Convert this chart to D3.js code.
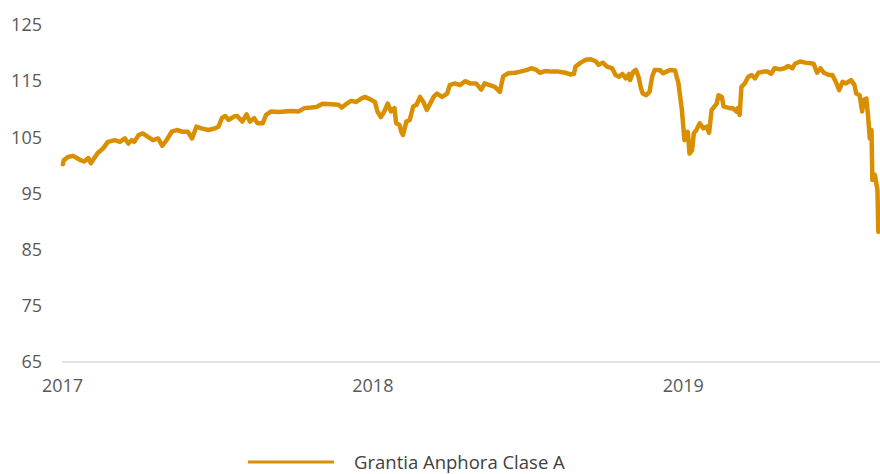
<!DOCTYPE html>
<html>
<head>
<meta charset="utf-8">
<script src="https://cdn.jsdelivr.net/npm/d3@7/dist/d3.min.js"></script>
<style>
  html, body { margin: 0; padding: 0; background: #fff; }
  svg { display: block; }
</style>
</head>
<body>
<svg id="chart" width="880" height="474"></svg>
<script>
const seriesName = "Grantia Anphora Clase A";
const yTicks = [65, 75, 85, 95, 105, 115, 125];
const xTickLabels = ["2017", "2018", "2019"];

const dates = [
  "2017-01-02","2017-01-03","2017-01-08","2017-01-14","2017-01-22","2017-01-27","2017-02-01","2017-02-04","2017-02-08","2017-02-12",
  "2017-02-18","2017-02-24","2017-03-04","2017-03-10","2017-03-16","2017-03-20","2017-03-24","2017-03-27","2017-04-01","2017-04-06",
  "2017-04-12","2017-04-18","2017-04-24","2017-04-29","2017-05-04","2017-05-10","2017-05-16","2017-05-23","2017-05-29","2017-06-03",
  "2017-06-08","2017-06-14","2017-06-22","2017-06-30","2017-07-04","2017-07-08","2017-07-12","2017-07-16","2017-07-22","2017-07-26",
  "2017-08-01","2017-08-06","2017-08-10","2017-08-15","2017-08-19","2017-08-25","2017-08-29","2017-09-04","2017-09-12","2017-09-20",
  "2017-09-28","2017-10-06","2017-10-13","2017-10-21","2017-10-27","2017-11-04","2017-11-14","2017-11-22","2017-11-26","2017-12-01",
  "2017-12-07","2017-12-13","2017-12-19","2017-12-23","2017-12-29","2018-01-04","2018-01-07","2018-01-11","2018-01-15","2018-01-19",
  "2018-01-23","2018-01-27","2018-01-29","2018-02-02","2018-02-04","2018-02-06","2018-02-10","2018-02-14","2018-02-18","2018-02-22",
  "2018-02-26","2018-03-02","2018-03-06","2018-03-10","2018-03-14","2018-03-18","2018-03-24","2018-03-30","2018-04-02","2018-04-08",
  "2018-04-14","2018-04-20","2018-04-26","2018-05-03","2018-05-09","2018-05-13","2018-05-19","2018-05-25","2018-05-31","2018-06-02",
  "2018-06-04","2018-06-10","2018-06-18","2018-06-24","2018-07-02","2018-07-07","2018-07-13","2018-07-17","2018-07-23","2018-07-31",
  "2018-08-08","2018-08-16","2018-08-22","2018-08-26","2018-08-28","2018-09-03","2018-09-09","2018-09-15","2018-09-21","2018-09-24",
  "2018-09-29","2018-10-04","2018-10-10","2018-10-14","2018-10-18","2018-10-22","2018-10-26","2018-10-30","2018-10-31","2018-11-04",
  "2018-11-07","2018-11-10","2018-11-13","2018-11-15","2018-11-19","2018-11-23","2018-11-26","2018-11-29","2018-12-05","2018-12-09",
  "2018-12-13","2018-12-17","2018-12-23","2018-12-27","2018-12-29","2018-12-31","2019-01-02","2019-01-03","2019-01-07","2019-01-09",
  "2019-01-12","2019-01-14","2019-01-17","2019-01-21","2019-01-25","2019-01-29","2019-02-01","2019-02-04","2019-02-10","2019-02-12",
  "2019-02-16","2019-02-18","2019-02-25","2019-03-01","2019-03-05","2019-03-07","2019-03-09","2019-03-11","2019-03-15","2019-03-19",
  "2019-03-23","2019-03-27","2019-03-31","2019-04-06","2019-04-11","2019-04-15","2019-04-19","2019-04-25","2019-05-01","2019-05-05",
  "2019-05-10","2019-05-13","2019-05-19","2019-05-25","2019-05-31","2019-06-04","2019-06-08","2019-06-12","2019-06-16","2019-06-22",
  "2019-06-26","2019-06-30","2019-07-04","2019-07-08","2019-07-12","2019-07-18","2019-07-22","2019-07-24","2019-07-28","2019-07-31",
  "2019-08-02","2019-08-05","2019-08-07","2019-08-09","2019-08-11","2019-08-12","2019-08-15","2019-08-18","2019-08-19"
];

const values = [
  100.2,100.9,101.5,101.7,101.0,100.7,101.3,100.4,101.3,102.2,
  103.0,104.2,104.5,104.2,104.8,103.9,104.5,104.2,105.4,105.7,
  105.1,104.5,104.8,103.5,104.5,106.0,106.3,106.0,106.0,104.8,
  106.9,106.6,106.3,106.6,106.9,108.4,108.8,108.1,108.7,108.8,
  107.8,109.1,107.8,108.4,107.5,107.5,109.0,109.6,109.5,109.6,
  109.7,109.6,110.2,110.3,110.4,111.0,110.9,110.8,110.3,110.9,
  111.5,111.3,111.9,112.2,111.8,111.3,109.6,108.6,109.6,111.0,
  109.6,110.2,107.5,107.2,106.0,105.4,107.8,108.1,110.5,110.8,
  112.2,111.3,109.9,111.0,112.2,112.8,112.2,112.8,114.3,114.6,
  114.3,115.0,114.6,114.6,113.5,114.6,114.3,114.0,113.1,114.6,
  115.9,116.4,116.5,116.7,117.0,117.3,117.0,116.5,116.8,116.7,
  116.7,116.5,116.2,116.3,117.6,118.3,118.8,118.9,118.5,117.9,
  118.3,117.6,117.3,116.1,115.8,116.3,115.5,116.3,115.2,116.7,
  117.0,115.8,113.7,112.8,112.5,113.1,115.8,117.0,117.0,116.4,
  116.7,117.0,116.9,114.6,112.2,109.9,106.3,104.5,106.0,102.1,
  102.7,105.7,106.3,107.5,106.6,106.9,105.8,109.9,111.0,112.5,
  112.2,110.5,110.2,110.2,109.6,110.2,109.0,114.0,114.6,115.8,
  116.1,115.5,116.5,116.7,116.7,116.3,117.3,117.1,117.3,117.7,
  117.3,118.1,118.5,118.3,118.2,118.1,116.5,117.3,116.5,116.1,
  116.1,114.9,113.4,114.9,114.6,115.2,114.3,112.8,112.5,109.6,
  111.7,111.9,108.7,104.8,106.3,97.4,98.3,95.6,88.2
];

const parse = d3.timeParse("%Y-%m-%d");
const data = dates.map((d, i) => ({ date: parse(d), value: values[i] }));

const svg = d3.select("#chart");
const mLeft = 62, mRight = 880, mTop = 25, mBottom = 362;

const x = d3.scaleTime()
  .domain([parse("2017-01-01"), parse("2019-08-21")])
  .range([mLeft, mRight]);
const y = d3.scaleLinear().domain([65, 125]).range([mBottom, mTop]);

// baseline
svg.append("line")
  .attr("x1", mLeft).attr("x2", mRight)
  .attr("y1", y(65)).attr("y2", y(65))
  .attr("stroke", "#d9d9d9").attr("stroke-width", 1.5);

const fontFamily = "'Open Sans', 'Liberation Sans', sans-serif";

const yAxis = svg.append("g")
  .attr("transform", `translate(${mLeft},0)`)
  .call(d3.axisLeft(y).tickValues(yTicks).tickSize(0).tickPadding(20).tickFormat(d3.format("d")));
yAxis.select(".domain").remove();
yAxis.selectAll("text").attr("fill", "#595959").style("font-size", "18px").style("font-family", fontFamily);

const xAxis = svg.append("g")
  .attr("transform", `translate(0,${mBottom})`)
  .call(d3.axisBottom(x)
    .tickValues(xTickLabels.map(s => parse(s + "-01-01")))
    .tickSize(0).tickPadding(17)
    .tickFormat((d, i) => xTickLabels[i]));
xAxis.select(".domain").remove();
xAxis.selectAll("text").attr("fill", "#595959").style("font-size", "18px").style("font-family", fontFamily);

const line = d3.line().x(d => x(d.date)).y(d => y(d.value));
svg.append("path")
  .datum(data)
  .attr("d", line)
  .attr("fill", "none")
  .attr("stroke", "#d98f00")
  .attr("stroke-width", 4.5)
  .attr("stroke-linejoin", "round")
  .attr("stroke-linecap", "round");

// legend
const lg = svg.append("g").attr("transform", "translate(248,462)");
lg.append("line").attr("x1", 0).attr("x2", 86).attr("y1", 0).attr("y2", 0)
  .attr("stroke", "#d98f00").attr("stroke-width", 3);
lg.append("text").attr("x", 106).attr("y", 0).attr("dy", "0.38em")
  .attr("fill", "#404040").style("font-size", "18.5px").style("font-family", fontFamily)
  .text(seriesName);
</script>
</body>
</html>
